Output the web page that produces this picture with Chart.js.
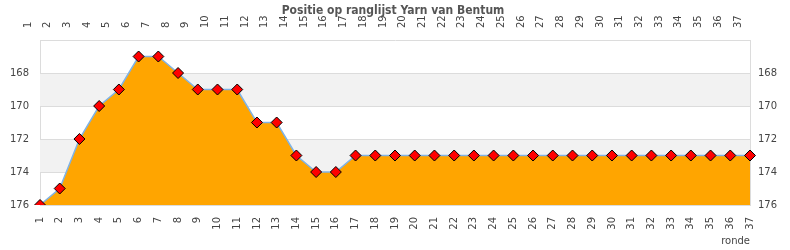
<!DOCTYPE html>
<html>
<head>
<meta charset="utf-8">
<script src="https://cdn.jsdelivr.net/npm/chart.js@4"></script>
<style>
  html, body { margin: 0; padding: 0; background: #fff; }
  #wrap { width: 790px; height: 250px; }
</style>
</head>
<body>
<div id="wrap"><canvas id="myChart" width="790" height="250"></canvas></div>
<script>
// Data
const rondes = Array.from({ length: 37 }, (_, i) => String(i + 1));
const posities = [176, 175, 172, 170, 169, 167, 167, 168, 169, 169, 169, 171, 171, 173, 174, 174,
    173, 173, 173, 173, 173, 173, 173, 173, 173, 173, 173, 173, 173, 173, 173, 173, 173, 173, 173, 173, 173];
const yTicks = [168, 170, 172, 174, 176];
const bands = [[168, 170], [172, 174]];
const titleText = 'Positie op ranglijst Yarn van Bentum';

const labelColor = '#444';
const gridColor = '#dcdcdc';
const tickFont = { family: 'DejaVu Sans', size: 10 };

// grey bands behind the plot
const bandPlugin = {
    id: 'bands',
    beforeDatasetsDraw(chart) {
        const { ctx, chartArea } = chart;
        const y = chart.scales.y;
        ctx.save();
        ctx.fillStyle = '#f2f2f2';
        bands.forEach(([a, b]) => {
            const y1 = y.getPixelForValue(a);
            const y2 = y.getPixelForValue(b);
            ctx.fillRect(chartArea.left, Math.min(y1, y2), chartArea.right - chartArea.left, Math.abs(y2 - y1));
        });
        // redraw grid lines over the bands
        ctx.strokeStyle = gridColor;
        ctx.lineWidth = 1;
        yTicks.forEach(v => {
            const py = Math.round(y.getPixelForValue(v)) + 0.5;
            ctx.beginPath();
            ctx.moveTo(chartArea.left, py);
            ctx.lineTo(chartArea.right, py);
            ctx.stroke();
        });
        ctx.restore();
    }
};

// title drawn over the top labels, like the original
const titlePlugin = {
    id: 'overTitle',
    afterDraw(chart) {
        const { ctx } = chart;
        ctx.save();
        ctx.font = 'bold 12px "DejaVu Sans Condensed", "DejaVu Sans"';
        ctx.fillStyle = '#555';
        ctx.textAlign = 'center';
        ctx.textBaseline = 'middle';
        ctx.fillText(titleText, 393, 11);
        ctx.restore();
    }
};

const fixSize = (w, h) => scale => {
    if (w !== null) scale.width = w;
    if (h !== null) scale.height = h;
};

const ctx = document.getElementById('myChart').getContext('2d');
new Chart(ctx, {
    type: 'line',
    data: {
        labels: rondes,
        datasets: [{
            data: posities,
            xAxisID: 'x',
            yAxisID: 'y',
            borderColor: '#7fb3e6',
            borderWidth: 1.5,
            backgroundColor: '#ffa500',
            fill: { value: 176 },
            tension: 0,
            pointStyle: 'rectRot',
            pointRadius: 5.5,
            pointHoverRadius: 5.5,
            pointBackgroundColor: '#ff0000',
            pointBorderColor: '#000',
            pointBorderWidth: 1
        }]
    },
    plugins: [bandPlugin, titlePlugin],
    options: {
        responsive: false,
        animation: false,
        events: [],
        layout: { padding: 0 },
        plugins: {
            legend: { display: false },
            title: { display: false },
            tooltip: { enabled: false }
        },
        scales: {
            x: {
                type: 'category',
                position: 'bottom',
                offset: false,
                grid: { display: false, drawTicks: false },
                border: { display: false },
                ticks: { color: labelColor, font: tickFont, minRotation: 90, maxRotation: 90, autoSkip: false, padding: 12 },
                title: { display: true, text: 'ronde', align: 'end', color: labelColor, font: tickFont, padding: { top: 0, bottom: 3 } },
                afterFit: fixSize(null, 45)
            },
            x2: {
                type: 'category',
                position: 'top',
                labels: rondes,
                offset: false,
                grid: { display: false, drawTicks: false },
                border: { display: true, color: gridColor },
                ticks: { color: labelColor, font: tickFont, minRotation: 90, maxRotation: 90, autoSkip: false, padding: 12 },
                afterFit: fixSize(null, 40)
            },
            y: {
                position: 'left',
                reverse: true,
                min: 166,
                max: 176,
                afterBuildTicks: s => { s.ticks = yTicks.map(v => ({ value: v })); },
                grid: { color: gridColor, drawTicks: false },
                border: { display: true, color: gridColor },
                ticks: { color: labelColor, font: tickFont, padding: 11 },
                afterFit: fixSize(40, null)
            },
            y2: {
                position: 'right',
                reverse: true,
                min: 166,
                max: 176,
                afterBuildTicks: s => { s.ticks = yTicks.map(v => ({ value: v })); },
                grid: { display: false, drawTicks: false },
                border: { display: true, color: gridColor },
                ticks: { color: labelColor, font: tickFont, padding: 8 },
                afterFit: fixSize(40, null)
            }
        }
    }
});
</script>
</body>
</html>
